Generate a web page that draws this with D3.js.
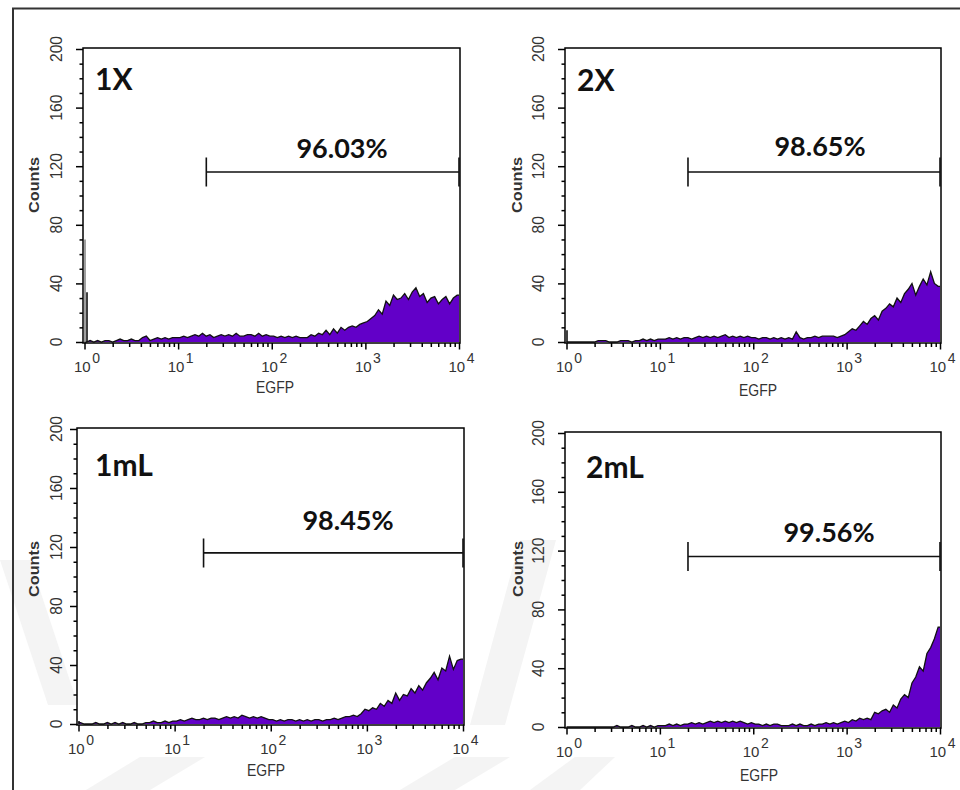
<!DOCTYPE html>
<html>
<head>
<meta charset="utf-8">
<script src="https://cdnjs.cloudflare.com/ajax/libs/d3/7.8.5/d3.min.js"></script>
<style>
  body { margin: 0; background: #fff; }
  svg { display: block; }
</style>
</head>
<body>
<svg id="chart" width="960" height="790"></svg>
<script>
// histogram counts, 100 bins of 0.04 decades from 10^0 to 10^4
var counts1X = [
  0, 1, 0, 1, 0, 1, 1, 0,
  1, 2, 1, 1, 2, 1, 1, 3,
  4, 1, 2, 3, 2, 3, 2, 3, 3,
  3, 4, 3, 4, 5, 4, 6, 4, 5, 3,
  4, 5, 4, 5, 4, 6, 4, 4, 5, 5,
  4, 6, 4, 5, 4,
  4, 3, 4, 3, 4, 3, 4, 3, 3, 3,
  5, 4, 6, 5, 8, 5, 9, 6, 10, 8,
  10, 11, 10, 12, 13,
  14, 16, 18, 22, 19, 28, 25, 32, 29, 30,
  33, 29, 34, 37, 31, 33, 27, 30, 31, 26, 29, 31, 26, 30, 32
];
var counts2X = [
  0, 0, 0, 0, 0, 0, 0, 0,
  1, 1, 1, 0, 0, 0, 1, 1,
  1, 0, 1, 1, 2, 1, 2, 1, 2,
  2, 2, 3, 2, 3, 2, 3, 3, 2, 3,
  4, 3, 4, 3, 4, 3, 4, 5, 3, 4,
  3, 4, 3, 4, 3,
  3, 2, 3, 3, 2, 3, 2, 3, 2, 3,
  2, 7, 3, 2, 3, 3, 4, 3, 4, 4,
  4, 4, 3, 4, 5,
  7, 9, 8, 11, 14, 12, 16, 18, 15, 21,
  23, 26, 24, 30, 27, 33, 36, 40, 32, 38, 43, 39, 48, 40, 38
];
var counts1mL = [
  1, 0, 0, 0, 1, 0, 0, 1,
  0, 1, 0, 1, 0, 0, 1, 0,
  0, 1, 1, 2, 1, 1, 2, 1, 2,
  2, 3, 2, 3, 4, 3, 3, 4, 3, 4,
  4, 3, 4, 5, 4, 5, 4, 6, 5, 4,
  5, 4, 5, 4, 3,
  3, 2, 3, 2, 3, 3, 2, 3, 2, 3,
  2, 3, 3, 2, 3, 3, 4, 3, 4, 5,
  5, 6, 5, 7, 10,
  9, 11, 10, 14, 12, 16, 14, 21, 16, 20,
  19, 24, 21, 26, 23, 28, 31, 35, 30, 38, 36, 46, 37, 43, 44
];
var counts2mL = [
  0, 0, 0, 0, 0, 0, 0, 0,
  0, 0, 0, 0, 0, 1, 0, 0,
  0, 1, 0, 0, 1, 0, 1, 0, 1,
  1, 1, 2, 1, 2, 1, 2, 2, 3, 2,
  3, 2, 3, 4, 3, 4, 3, 4, 3, 4,
  3, 4, 3, 2, 3,
  2, 2, 1, 2, 1, 2, 2, 1, 1, 1,
  2, 1, 2, 1, 1, 2, 1, 2, 2, 3,
  2, 3, 2, 3, 4,
  3, 5, 4, 6, 5, 6, 5, 10, 9, 11,
  12, 10, 15, 13, 19, 22, 20, 30, 34, 41, 38, 50, 54, 60, 68
];
// off-scale events piled up in the first channels
var spike1X = [70, 34];
var spike2X = [8];
var spike1mL = [2];
var spike2mL = [];

var titles = ["1X", "2X", "1mL", "2mL"];
var percents = ["96.03%", "98.65%", "98.45%", "99.56%"];
var yTicks = [0, 40, 80, 120, 160, 200];
var decades = [1, 10, 100, 1000, 10000];
var gate = {lo: 20, hi: 10000, level: 116};

// where each panel sits on the page
var layout = [
  {left: 83, right: 460, top: 48, bottom: 343, tickLab: 21, countsX: 39, countsY: 185,
   egfpX: 275, egfpY: 393, titleX: 95, titleY: 90, pctX: 342, pctY: 158},
  {left: 565, right: 941, top: 48, bottom: 343, tickLab: 21, countsX: 522, countsY: 185,
   egfpX: 758, egfpY: 396, titleX: 577, titleY: 91, pctX: 820, pctY: 156},
  {left: 77, right: 464, top: 428, bottom: 725, tickLab: 15, countsX: 39, countsY: 569,
   egfpX: 266, egfpY: 776, titleX: 95, titleY: 476, pctX: 348, pctY: 530},
  {left: 565, right: 941, top: 432, bottom: 728, tickLab: 21, countsX: 523, countsY: 569,
   egfpX: 759, egfpY: 781, titleX: 586, titleY: 478, pctX: 829, pctY: 542}
];

var allCounts = [counts1X, counts2X, counts1mL, counts2mL];
var allSpikes = [spike1X, spike2X, spike1mL, spike2mL];

var svg = d3.select("#chart");

// very faint watermark bands
var wm = svg.append("g").attr("fill", "#f4f4f4");
[
  "M0,560 L30,560 L78,705 L48,705 Z",
  "M520,540 L556,540 L505,725 L470,725 Z",
  "M86,790 L140,757 L205,757 L150,790 Z",
  "M400,790 L455,757 L510,757 L455,790 Z",
  "M530,790 L575,757 L615,757 L580,790 Z"
].forEach(function(d) { wm.append("path").attr("d", d); });

// outer figure border
svg.append("path")
  .attr("d", "M13,790 L13,8.5 L960,8.5")
  .attr("fill", "none")
  .attr("stroke", "#333")
  .attr("stroke-width", 2);

var minorX = [];
decades.slice(0, 4).forEach(function(d) {
  for (var m = 2; m < 10; m++) minorX.push(d * m);
});
var minorY = d3.range(0, 201, 10);

layout.forEach(function(L, p) {
  var counts = allCounts[p];
  var g = svg.append("g");

  var x = d3.scaleLog()
      .domain([1, 10000])
      .range([L.left + 1.5, L.right - 1]);
  var y = d3.scaleLinear()
      .domain([0, 200])
      .range([L.bottom - 1, L.top + 1]);

  // bin centres, padded out to both ends of the axis
  var step = 4 / counts.length;
  var pts = counts.map(function(c, i) { return {v: Math.pow(10, (i + 0.5) * step), c: c}; });
  pts.unshift({v: 1, c: counts[0]});
  pts.push({v: 10000, c: counts[counts.length - 1]});

  var area = d3.area()
      .x(function(d) { return x(d.v); })
      .y0(y(0))
      .y1(function(d) { return y(d.c); });
  var line = d3.line()
      .x(function(d) { return x(d.v); })
      .y(function(d) { return y(d.c); });

  g.append("path")
    .datum(pts)
    .attr("d", area)
    .attr("fill", "#6200c8");
  g.append("path")
    .datum(pts)
    .attr("d", line)
    .attr("fill", "none")
    .attr("stroke", "#111")
    .attr("stroke-width", 1.3)
    .attr("stroke-linejoin", "miter");

  allSpikes[p].forEach(function(c, i) {
    g.append("line")
      .attr("x1", x(1) + 0.5 + i * 2).attr("x2", x(1) + 0.5 + i * 2)
      .attr("y1", y(0)).attr("y2", y(c))
      .attr("stroke", (i === 0 && allSpikes[p].length > 1) ? "#888" : "#111")
      .attr("stroke-width", 1.6);
  });

  // frame
  g.append("rect")
    .attr("x", L.left).attr("y", L.top)
    .attr("width", L.right - L.left).attr("height", L.bottom - L.top)
    .attr("fill", "none")
    .attr("stroke", "#000")
    .attr("stroke-width", 1.5);

  // y axis
  var yAxis = g.append("g")
      .attr("transform", "translate(" + L.left + ",0)")
      .call(d3.axisLeft(y).tickValues(minorY).tickSize(3).tickFormat(""));
  yAxis.select(".domain").remove();
  yAxis.selectAll(".tick line")
      .attr("stroke-width", 1.5)
      .attr("x2", function(d) { return d % 40 === 0 ? -7 : -3.5; });

  g.selectAll(".ylab")
    .data(yTicks)
    .enter().append("text")
      .attr("class", "ylab")
      .attr("transform", function(d) { return "translate(" + (L.left - L.tickLab) + "," + y(d) + ") rotate(-90)"; })
      .attr("text-anchor", "middle")
      .attr("font-family", "Liberation Sans, Arial, sans-serif")
      .attr("font-size", 17)
      .attr("fill", "#333")
      .attr("textLength", function(d) { return String(d).length * 8.7; })
      .attr("lengthAdjust", "spacingAndGlyphs")
      .text(function(d) { return d; });

  g.append("text")
    .attr("transform", "translate(" + L.countsX + "," + L.countsY + ") rotate(-90)")
    .attr("text-anchor", "middle")
    .attr("font-family", "Liberation Sans, Arial, sans-serif")
    .attr("font-weight", "bold")
    .attr("font-size", 15)
    .attr("fill", "#333")
    .attr("textLength", 56)
    .attr("lengthAdjust", "spacingAndGlyphs")
    .text("Counts");

  // x axis
  var xAxis = g.append("g")
      .attr("transform", "translate(0," + L.bottom + ")")
      .call(d3.axisBottom(x).tickValues(decades.concat(minorX)).tickSize(4).tickFormat(""));
  xAxis.select(".domain").remove();
  xAxis.selectAll(".tick line")
      .attr("stroke-width", 1.5)
      .attr("y2", function(d) { return decades.indexOf(d) >= 0 ? 6.5 : 4; });

  var xl = g.selectAll(".xlab")
    .data(decades)
    .enter().append("text")
      .attr("class", "xlab")
      .attr("x", function(d) { return x(d) + 2.5; })
      .attr("y", L.bottom + 29)
      .attr("text-anchor", "middle")
      .attr("font-family", "Liberation Sans, Arial, sans-serif")
      .attr("fill", "#333");
  xl.append("tspan")
    .attr("font-size", 15)
    .text("10");
  xl.append("tspan")
    .attr("font-size", 14)
    .attr("dx", 1.5)
    .attr("dy", -9)
    .text(function(d, i) { return i; });

  g.append("text")
    .attr("x", L.egfpX)
    .attr("y", L.egfpY)
    .attr("text-anchor", "middle")
    .attr("font-family", "Liberation Sans, Arial, sans-serif")
    .attr("font-size", 17)
    .attr("fill", "#333")
    .attr("textLength", 38)
    .attr("lengthAdjust", "spacingAndGlyphs")
    .text("EGFP");

  // gate marker
  var gy = y(gate.level);
  g.append("path")
    .attr("d", "M" + x(gate.lo) + "," + (gy - 14.5) + " V" + (gy + 14.5) +
               " M" + x(gate.lo) + "," + gy + " H" + x(gate.hi) +
               " M" + x(gate.hi) + "," + (gy - 14.5) + " V" + (gy + 14.5))
    .attr("fill", "none")
    .attr("stroke", "#111")
    .attr("stroke-width", 1.6);

  g.append("text")
    .attr("x", L.pctX)
    .attr("y", L.pctY)
    .attr("text-anchor", "middle")
    .attr("font-family", "Lato, Open Sans, sans-serif")
    .attr("font-weight", "bold")
    .attr("font-size", 27)
    .attr("fill", "#111")
    .text(percents[p]);

  g.append("text")
    .attr("x", L.titleX)
    .attr("y", L.titleY)
    .attr("font-family", "Lato, Open Sans, sans-serif")
    .attr("font-weight", "bold")
    .attr("font-size", 30)
    .attr("fill", "#111")
    .text(titles[p]);
});
</script>
</body>
</html>
